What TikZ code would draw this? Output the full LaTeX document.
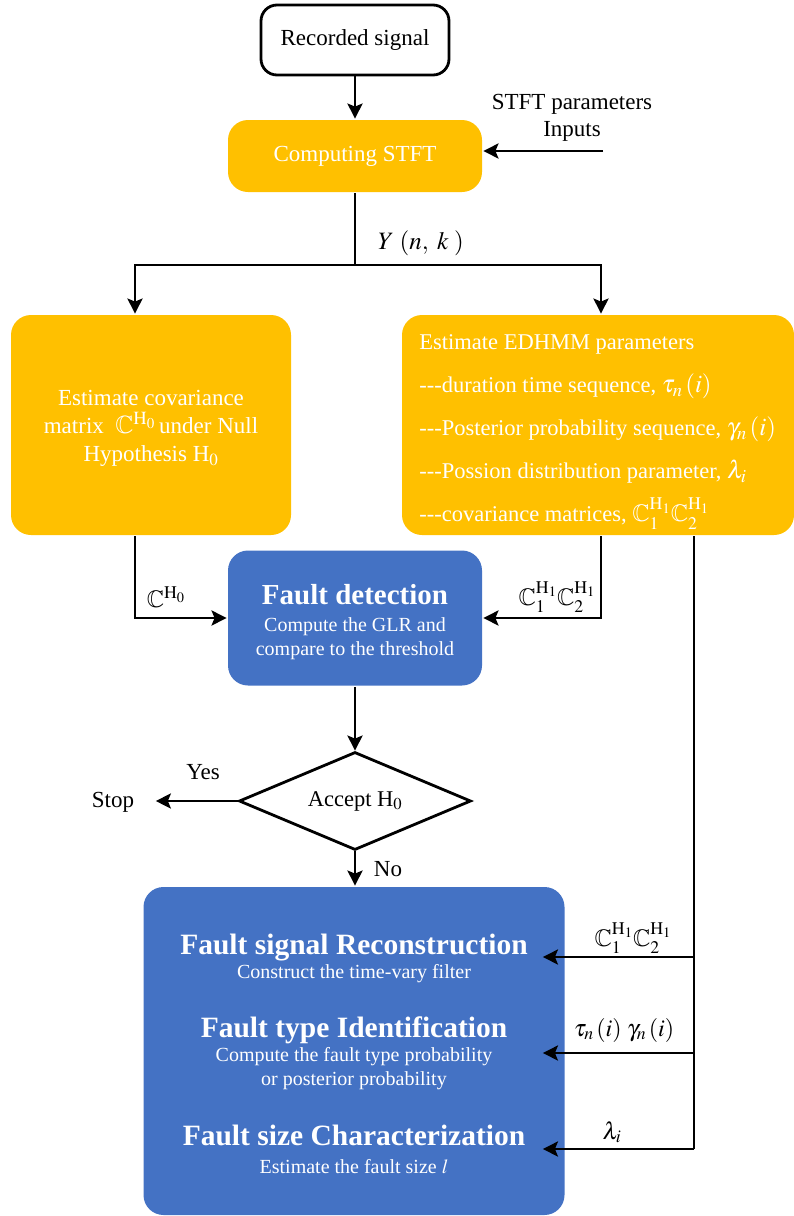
\documentclass[tikz,border=0pt]{standalone}
\usepackage{amsmath}
\usepackage{mathptmx}
\usepackage{amssymb}
\usepackage{fontspec}
\setmainfont{Liberation Serif}
\usetikzlibrary{arrows.meta, positioning, shapes.geometric}
\definecolor{boxorange}{RGB}{255,192,0}
\definecolor{boxblue}{RGB}{68,114,196}
\newcommand{\fsz}[2]{\fontsize{#1}{#2}\selectfont}

\begin{document}
\begin{tikzpicture}[x=1pt, y=-1pt, line width=2.8pt,
    >={Stealth[length=15pt, width=15pt, inset=3pt]},
    font=\fsz{23}{27},
    obox/.style={fill=boxorange, text=white, rounded corners=20pt},
    bbox/.style={fill=boxblue, text=white, rounded corners=20pt},
    lab/.style={inner sep=0pt, font=\fsz{24}{28}}]
    \useasboundingbox (0,0) rectangle (794,1216);

    % Ingresso e STFT
    \node[draw, rounded corners=16pt, minimum width=188pt, minimum height=70pt] (rec) at (355,40) {Recorded signal};
    \node[obox, minimum width=254pt, minimum height=72pt] (stft) at (355,156) {Computing STFT};
    \node[align=center, font=\fsz{23}{27}] (par) at (572,118) {STFT parameters\\Inputs};
    \coordinate (parin) at (603,151);
    \draw[->] (rec) -- (stft);
    \draw[->] (parin) -- (stft.east |- parin);

    % Diramazione verso le due stime
    \coordinate (split) at (355,265);
    \draw (stft.south) -- (split);
    \node[lab, font=\fsz{25}{28}] (ylab) at (421,243) {$Y\;(n,\;k\;)$};

    \node[obox, minimum width=280pt, minimum height=220pt, align=center, font=\fsz{23}{28}] (cov) at (151,425)
        {\rule{0pt}{22pt}Estimate covariance\\matrix\ \ {\fsz{25}{28}$\mathbb{C}^{\mathrm{H}_0}$}\,under Null\\Hypothesis H$_0$};
    \node[obox, minimum width=392pt, minimum height=220pt] (edhmm) at (598,425) {};
    \node[text=white, anchor=west, align=left, inner sep=0pt, font=\fsz{22.5}{43}] (edtxt) at (418,432)
        {Estimate EDHMM parameters\\
         -{}-{}-duration time sequence, {\fsz{25}{43}$\tau_n\,(i)$}\\
         -{}-{}-Posterior probability sequence, {\fsz{25}{43}$\gamma_n\,(i)$}\\
         -{}-{}-Possion distribution parameter, {\fsz{25}{43}$\lambda_i$}\\
         -{}-{}-covariance matrices, {\fsz{24}{43}$\mathbb{C}_1^{\mathrm{H}_1}\mathbb{C}_2^{\mathrm{H}_1}$}};
    \draw[->] (split) -| ([xshift=-16pt]cov.north);
    \draw[->] (split) -| ([xshift=3pt]edhmm.north);

    % Rilevazione del guasto
    \node[bbox, minimum width=254pt, minimum height=135pt, align=center, font=\fsz{20}{24}] (detect) at (355,618)
        {\rule{0pt}{28pt}{\bfseries\fsz{29}{32}Fault detection}\\[3pt]Compute the GLR and\\compare to the threshold};
    \draw[->] ([xshift=-16pt]cov.south) |- (detect.west);
    \node[lab] (c0) at (166,597) {$\mathbb{C}^{\mathrm{H}_0}$};
    \draw[->] ([xshift=3pt]edhmm.south) |- (detect.east);
    \node[lab] (c12a) at (557,597) {$\mathbb{C}_1^{\mathrm{H}_1}\mathbb{C}_2^{\mathrm{H}_1}$};

    % Decisione
    \node[draw, diamond, aspect=2.37, minimum width=232pt, minimum height=98pt, inner sep=0pt, font=\fsz{22.5}{26}] (accept) at (355,801) {Accept H$_0$};
    \node (stop) at (113,802) {Stop};
    \node (yes) at (203,772) {Yes};
    \node (no) at (388,869) {No};
    \draw[->] (detect) -- (accept);
    \draw[->] (accept.west) -- ([xshift=17pt]stop.east |- accept.west);

    % Blocco finale
    \node[bbox, minimum width=421pt, minimum height=328pt] (recon) at (354,1051) {};
    \draw[->] (accept.south) -- (accept.south |- recon.north);
    \node[text=white, align=center, font=\fsz{20}{24}] (recA) at (354,958)
        {{\bfseries\fsz{29.5}{34}Fault signal Reconstruction}\\Construct the time-vary filter};
    \node[text=white, align=center, font=\fsz{20}{24}] (recB) at (354,1053)
        {{\bfseries\fsz{29.5}{34}Fault type Identification}\\Compute the fault type probability\\or posterior probability};
    \node[text=white, align=center, font=\fsz{20}{24}] (recC) at (354,1149)
        {{\bfseries\fsz{29.5}{34}Fault size Characterization}\\[4pt]Estimate the fault size $l$};

    % Linea dei parametri EDHMM
    \coordinate (bus) at (694,1149);
    \draw ([xshift=96pt]edhmm.south) -- (bus);
    \foreach \y/\n in {957/b1, 1053/b2, 1149/b3}
        \draw[->, shorten >=-23pt] (694,\y) coordinate (\n) -- (\n -| recon.east);
    \node[lab] (c12b) at (633,938) {$\mathbb{C}_1^{\mathrm{H}_1}\mathbb{C}_2^{\mathrm{H}_1}$};
    \node[lab] (tg) at (624,1030) {$\tau_n\,(i)\;\gamma_n\,(i)$};
    \node[lab] (lam) at (612,1132) {$\lambda_i$};
\end{tikzpicture}
\end{document}
